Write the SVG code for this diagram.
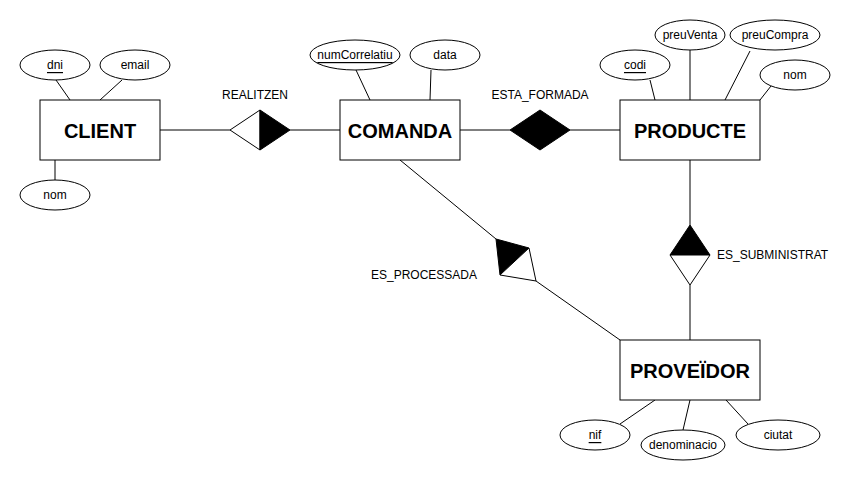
<svg xmlns="http://www.w3.org/2000/svg" width="858" height="481" viewBox="0 0 858 481">
<style>
.ent rect{fill:#fff;stroke:#000;stroke-width:1}
.ent text{font-family:"Liberation Sans",Arial,sans-serif;font-weight:bold;font-size:20px;text-anchor:middle;dominant-baseline:central}
.att ellipse{fill:#fff;stroke:#000;stroke-width:1}
.att text{font-family:"Liberation Sans",Arial,sans-serif;font-size:12px;text-anchor:middle;dominant-baseline:central}
.key text{text-decoration:underline}
.lbl{font-family:"Liberation Sans",Arial,sans-serif;font-size:12px;fill:#000}
.conn line{stroke:#000;stroke-width:1}
.rel polygon{stroke:#000;stroke-width:1;stroke-linejoin:miter}
.w{fill:#fff}.b{fill:#000}
</style>
<rect width="858" height="481" fill="#fff"/>
<g id="connectors" class="conn">
<line x1="56" y1="80" x2="70" y2="100"/>
<line x1="122" y1="80" x2="100" y2="100"/>
<line x1="55" y1="160" x2="55" y2="180"/>
<line x1="160" y1="130" x2="230" y2="130"/>
<line x1="290" y1="130" x2="340" y2="130"/>
<line x1="356" y1="70" x2="370" y2="100"/>
<line x1="431" y1="70" x2="430" y2="100"/>
<line x1="460" y1="130" x2="510" y2="130"/>
<line x1="570" y1="130" x2="620" y2="130"/>
<line x1="650" y1="80" x2="655" y2="100"/>
<line x1="690" y1="50" x2="690" y2="100"/>
<line x1="750" y1="51" x2="725" y2="100"/>
<line x1="771" y1="86" x2="760" y2="100"/>
<line x1="690" y1="160" x2="690" y2="225"/>
<line x1="690" y1="285" x2="690" y2="340"/>
<line x1="400" y1="160" x2="496" y2="239"/>
<line x1="536" y1="281" x2="620" y2="340"/>
<line x1="655" y1="400" x2="620" y2="424"/>
<line x1="690" y1="400" x2="683" y2="430"/>
<line x1="726" y1="400" x2="748" y2="424"/>
</g>
<g id="CLIENT" class="ent"><rect x="40" y="100" width="120" height="60"/><text x="100" y="131">CLIENT</text></g>
<g id="COMANDA" class="ent"><rect x="340" y="100" width="120" height="60"/><text x="400" y="131">COMANDA</text></g>
<g id="PRODUCTE" class="ent"><rect x="620" y="100" width="140" height="60"/><text x="690" y="131">PRODUCTE</text></g>
<g id="PROVEIDOR" class="ent"><rect x="620" y="340" width="140" height="60"/><text x="690" y="371">PROVEÏDOR</text></g>
<g id="client_dni" class="att key"><ellipse cx="55" cy="65" rx="35" ry="15"/><text x="55" y="65">dni</text></g>
<g id="client_email" class="att"><ellipse cx="135" cy="65" rx="35" ry="15"/><text x="135" y="65">email</text></g>
<g id="client_nom" class="att"><ellipse cx="55" cy="195" rx="35" ry="15"/><text x="55" y="195">nom</text></g>
<g id="comanda_num" class="att key"><ellipse cx="355" cy="55" rx="45" ry="15"/><text x="355" y="55">numCorrelatiu</text></g>
<g id="comanda_data" class="att"><ellipse cx="445" cy="55" rx="35" ry="15"/><text x="445" y="55">data</text></g>
<g id="producte_codi" class="att key"><ellipse cx="635" cy="65" rx="35" ry="15"/><text x="635" y="65">codi</text></g>
<g id="producte_preuVenta" class="att"><ellipse cx="690" cy="35" rx="35" ry="15"/><text x="690" y="35">preuVenta</text></g>
<g id="producte_preuCompra" class="att"><ellipse cx="775" cy="35" rx="45" ry="15"/><text x="775" y="35">preuCompra</text></g>
<g id="producte_nom" class="att"><ellipse cx="795" cy="75" rx="35" ry="15"/><text x="795" y="75">nom</text></g>
<g id="proveidor_nif" class="att key"><ellipse cx="595" cy="435" rx="35" ry="15"/><text x="595" y="435">nif</text></g>
<g id="proveidor_denominacio" class="att"><ellipse cx="683" cy="445" rx="42" ry="15"/><text x="683" y="445">denominacio</text></g>
<g id="proveidor_ciutat" class="att"><ellipse cx="778" cy="435" rx="42" ry="15"/><text x="778" y="435">ciutat</text></g>
<g id="REALITZEN" class="rel">
<polygon class="w" points="230,130 260,110 260,150"/>
<polygon class="b" points="260,110 290,130 260,150"/>
<text class="lbl" x="255" y="99" text-anchor="middle">REALITZEN</text>
</g>
<g id="ESTA_FORMADA" class="rel">
<polygon class="b" points="510,130 540,110 570,130 540,150"/>
<text class="lbl" x="540" y="99" text-anchor="middle">ESTA_FORMADA</text>
</g>
<g id="ES_SUBMINISTRAT" class="rel">
<polygon class="b" points="670,255 690,225 710,255"/>
<polygon class="w" points="670,255 710,255 690,285"/>
<text class="lbl" x="717" y="259">ES_SUBMINISTRAT</text>
</g>
<g id="ES_PROCESSADA" class="rel">
<polygon class="b" points="496,239 529,248 500,275"/>
<polygon class="w" points="529,248 536,281 500,275"/>
<text class="lbl" x="477" y="279" text-anchor="end">ES_PROCESSADA</text>
</g>
</svg>
